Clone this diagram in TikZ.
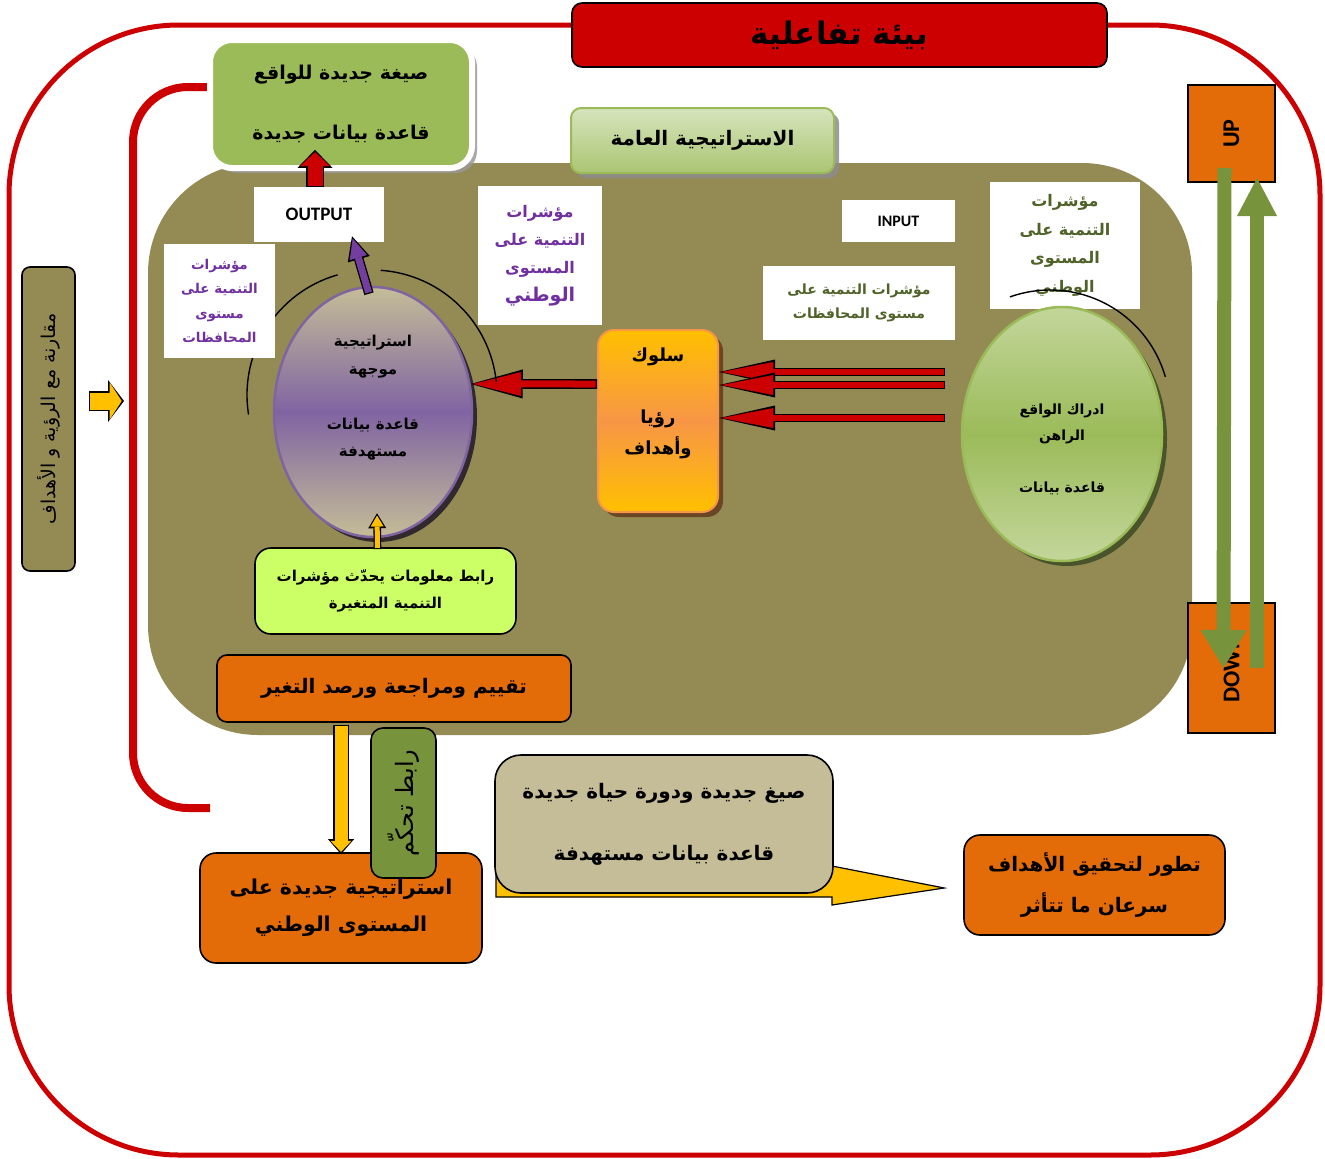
\documentclass[tikz,border=0pt]{standalone}
\usepackage{fontspec}
\newfontfamily\arabicfont[Script=Arabic]{DejaVu Sans}
\newfontfamily\latinfont{Carlito}
\usetikzlibrary{arrows.meta,shadows,calc,shapes.geometric}
\TeXXeTstate=1
\definecolor{framered}{HTML}{CC0000}
\definecolor{envolive}{HTML}{948A54}
\definecolor{leafgreen}{HTML}{9BBB59}
\definecolor{palegreen}{HTML}{C3D69B}
\definecolor{mintgreen}{HTML}{D7E4BD}
\definecolor{lightlime}{HTML}{CCFF66}
\definecolor{burnt}{HTML}{E36C09}
\definecolor{beige}{HTML}{C4BD97}
\definecolor{lavender}{HTML}{8064A2}
\definecolor{indpurple}{HTML}{7030A0}
\definecolor{indgreen}{HTML}{4F6228}
\definecolor{armygreen}{HTML}{77933C}
\definecolor{amber}{HTML}{FFC000}
\definecolor{tangerine}{HTML}{F79646}
\newcommand\fsz[2]{\fontsize{#1pt}{#2pt}\selectfont}
\newcommand\artx[1]{\beginR#1\endR}
% block arrow: fill colour, from, to, shaft, head length, head width
\newcommand\blockarrow[6]{%
  \pgfmathsetmacro\baW{#4+2.6}%
  \pgfmathsetmacro\baL{#5+4}%
  \pgfmathsetmacro\baH{#6+5}%
  \draw[line width=\baW pt,black,-{Triangle[length=\baL pt,width=\baH pt,line width=0pt]}] #2 -- #3;
  \draw[line width=#4pt,#1,-{Triangle[length=#5pt,width=#6pt,line width=0pt]},shorten >=2.3pt,shorten <=1.3pt] #2 -- #3;}

\begin{document}
\begin{tikzpicture}[x=1pt,y=-1pt,
  rbox/.style={draw=black,line width=1.6pt,rounded corners=#1,align=center,inner sep=0pt},
  rbox/.default=12pt,
  wbox/.style={fill=white,align=center,inner sep=0pt},
  ring/.style={black,line width=1.4pt},
  dropsh/.style={drop shadow={shadow xshift=5pt,shadow yshift=-5pt,fill=#1,opacity=.85}}
]
\useasboundingbox (0,0) rectangle (1325,1159);

% outer frame and bracket
\draw[framered,line width=5pt,rounded corners=170pt] (9,25) rectangle (1320,1155);
\draw[framered,line width=8pt,rounded corners=55pt] (215,87) -- (133,87) -- (133,808) -- (210,808);
\node[rbox=10pt,fill=framered,minimum width=535pt,minimum height=64pt,font=\arabicfont\bfseries\fsz{31}{36}] (title) at (839.5,35) {\artx{بيئة تفاعلية}};

% olive field
\fill[envolive,rounded corners=110pt] (148,163) rectangle (1192,735);

\node[rbox=22pt,draw=white,line width=6pt,fill=leafgreen,minimum width=262pt,minimum height=128pt,dropsh=black!40,font=\arabicfont\bfseries\fsz{19}{60}] (newform) at (341,104) {\artx{صيغة جديدة للواقع}\\\artx{قاعدة بيانات جديدة}};
\node[rbox=10pt,draw=leafgreen,line width=2pt,top color=mintgreen,bottom color=leafgreen!85!white,minimum width=263pt,minimum height=65pt,dropsh=black!45,font=\arabicfont\bfseries\fsz{20}{24}] (general) at (702.5,140.5) {\artx{الاستراتيجية العامة}};

% strategy ellipse and behaviour box
\node[ellipse,minimum width=198pt,minimum height=250pt,draw=lavender,line width=2.5pt,top color=beige,bottom color=beige,middle color=lavender,dropsh=black!75!lavender] (aimed) at (373,412) {};
\node[align=center,font=\arabicfont\bfseries\fsz{15}{27.5}] (aimedtext) at ($(aimed.center)+(0,-14)$) {\artx{استراتيجية}\\\artx{موجهة}\\\strut\\\artx{قاعدة بيانات}\\\artx{مستهدفة}};
\node[rbox=16pt,draw=tangerine,line width=2pt,top color=amber,bottom color=amber,middle color=tangerine,minimum width=120pt,minimum height=182pt,dropsh=black!60!tangerine] (behav) at (658,421) {};
\node[align=center,font=\arabicfont\bfseries\fsz{18}{31}] (behavtext) at ($(behav.center)+(0,-18)$) {\artx{سلوك}\\\strut\\\artx{رؤيا}\\\artx{وأهداف}};
\blockarrow{framered}{([yshift=37pt]behav.west)}{(aimed.16)}{7}{48}{24}

\coordinate (aimring) at ($(aimed.center)+(-1,-17)$);
\draw[ring] (aimring) ++(-189:125) arc[start angle=-189,end angle=-106,radius=125];
\draw[ring] (aimring) ++(-86:125) arc[start angle=-86,end angle=-6,radius=125];

% indicator boxes
\node[wbox,minimum width=130pt,minimum height=55pt,font=\latinfont\bfseries\fsz{19}{20}] (output) at (319,214.5) {OUTPUT};
\node[wbox,minimum width=113pt,minimum height=42pt,font=\latinfont\bfseries\fsz{16}{18}] (input) at (898.5,221) {INPUT};
\node[wbox,minimum width=111pt,minimum height=114pt,text=indpurple,font=\arabicfont\bfseries\fsz{13.5}{24.5}] (govleft) at (219.5,301) {\artx{مؤشرات}\\\artx{التنمية على}\\\artx{مستوى}\\\artx{المحافظات}};
\node[wbox,minimum width=124pt,minimum height=139pt,text=indpurple,font=\arabicfont\bfseries\fsz{16}{28}] (natmid) at (540,255.5) {\artx{مؤشرات}\\\artx{التنمية على}\\\artx{المستوى}\\{\fsz{19}{28}\artx{الوطني}}};
\node[wbox,minimum width=192pt,minimum height=74pt,text=indgreen,font=\arabicfont\bfseries\fsz{14}{24}] (govright) at (859,303) {\artx{مؤشرات التنمية على}\\\artx{مستوى المحافظات}};
\node[wbox,minimum width=150pt,minimum height=127pt,text=indgreen,font=\arabicfont\bfseries\fsz{16}{28.5}] (natright) at (1065,245.5) {\artx{مؤشرات}\\\artx{التنمية على}\\\artx{المستوى}\\\artx{الوطني}};

% reality ellipse
\node[ellipse,minimum width=200pt,minimum height=254pt,draw=leafgreen,line width=2.5pt,top color=palegreen,bottom color=palegreen,middle color=leafgreen,dropsh=black!60!leafgreen] (reality) at (1062,434) {};
\node[align=center,font=\arabicfont\bfseries\fsz{14}{26}] (realitytext) at ($(reality.center)+(0,15)$) {\artx{ادراك الواقع}\\\artx{الراهن}\\\strut\\\artx{قاعدة بيانات}};
\coordinate (realring) at ($(reality.center)+(-12,-24)$);
\draw[ring] (realring) ++(-109.5:120) arc[start angle=-109.5,end angle=-16,radius=120];

% inputs into behaviour
\coordinate (inA) at (945,372);
\coordinate (inB) at (945,385);
\coordinate (inC) at (945,418);
\blockarrow{framered}{(inA)}{([yshift=49pt]behav.east)}{6}{52}{20}
\blockarrow{framered}{(inB)}{([yshift=36pt]behav.east)}{6}{52}{20}
\blockarrow{framered}{(inC)}{([yshift=3pt]behav.east)}{6}{52}{20}

% outputs
\blockarrow{indpurple!75!lavender}{($(aimed.north)+(-4,8)$)}{($(output.south)+(33,-6)$)}{7}{20}{18}
\blockarrow{framered}{($(output.north)+(-4,0)$)}{($(output.north)+(-4,-37)$)}{15}{14}{30}

% lower chain
\node[rbox=16pt,fill=lightlime,minimum width=261pt,minimum height=86pt,font=\arabicfont\bfseries\fsz{15}{27}] (infolink) at (385.5,591) {\artx{رابط معلومات يحدّث مؤشرات}\\\artx{التنمية المتغيرة}};
\blockarrow{amber}{($(infolink.north)+(-8,2)$)}{($(aimed.south)+(4,-25)$)}{5}{11}{13}
\node[rbox=10pt,fill=burnt,minimum width=354pt,minimum height=67pt,font=\arabicfont\bfseries\fsz{20}{26}] (review) at (394,688.5) {\artx{تقييم ومراجعة ورصد التغير}};
\node[rbox=16pt,fill=burnt,minimum width=282pt,minimum height=110pt,font=\arabicfont\bfseries\fsz{20.5}{37}] (newstrat) at (341,908) {\artx{استراتيجية جديدة على}\\\artx{المستوى الوطني}};
\blockarrow{amber}{($(review.south)+(-53,2)$)}{($(newstrat.north)+(0,2)$)}{13}{11}{21}
\node[rbox=12pt,fill=armygreen,rotate=90,minimum width=150pt,minimum height=65pt,font=\arabicfont\fsz{24}{28}] (ctrl) at (403.5,803) {\artx{رابط تحكّم}};

\node[rbox=16pt,fill=burnt,minimum width=261pt,minimum height=100pt,font=\arabicfont\bfseries\fsz{20}{41}] (evolve) at (1094.5,885) {\artx{تطور لتحقيق الأهداف}\\\artx{سرعان ما تتأثر}};
\draw[black,line width=1.2pt,fill=amber] (496,868) -- (496,897) -- (832,897) -- (832,905) -- ($(evolve.west)+(-19,3)$) -- (832,866) -- cycle;
\node[rbox=26pt,fill=beige,minimum width=338pt,minimum height=138pt,font=\arabicfont\bfseries\fsz{20}{62}] (newcycle) at (664,824) {\artx{صيغ جديدة ودورة حياة جديدة}\\\artx{قاعدة بيانات مستهدفة}};

% comparison
\node[rbox=8pt,fill=envolive,rotate=90,minimum width=304pt,minimum height=53pt,font=\arabicfont\fsz{19}{22}] (compare) at (48.5,419) {\artx{مقارنة مع الرؤية و الأهداف}};
\coordinate (cmpA) at (89,401);
\coordinate (cmpB) at (124,401);
\blockarrow{amber}{(cmpA)}{(cmpB)}{17}{12}{37}

% up and down
\node[draw=black,line width=1.6pt,fill=burnt,rotate=90,minimum width=97pt,minimum height=87pt,inner sep=0pt,font=\latinfont\bfseries\fsz{24}{26}] (up) at (1231.5,133.5) {UP};
\node[draw=black,line width=1.6pt,fill=burnt,rotate=90,minimum width=130pt,minimum height=87pt,inner sep=0pt,font=\latinfont\bfseries\fsz{24}{26}] (down) at (1231.5,668) {DOWN};
\draw[line width=14pt,armygreen,-{Triangle[length=38pt,width=46pt,line width=0pt]}] ($(up.center)+(-7,34.5)$) -- ($(down.center)+(-8,0)$);
\draw[line width=14pt,armygreen,-{Triangle[length=38pt,width=40pt,line width=0pt]}] ($(down.center)+(25.5,0)$) -- ($(up.center)+(25.5,44.5)$);
\end{tikzpicture}
\end{document}
